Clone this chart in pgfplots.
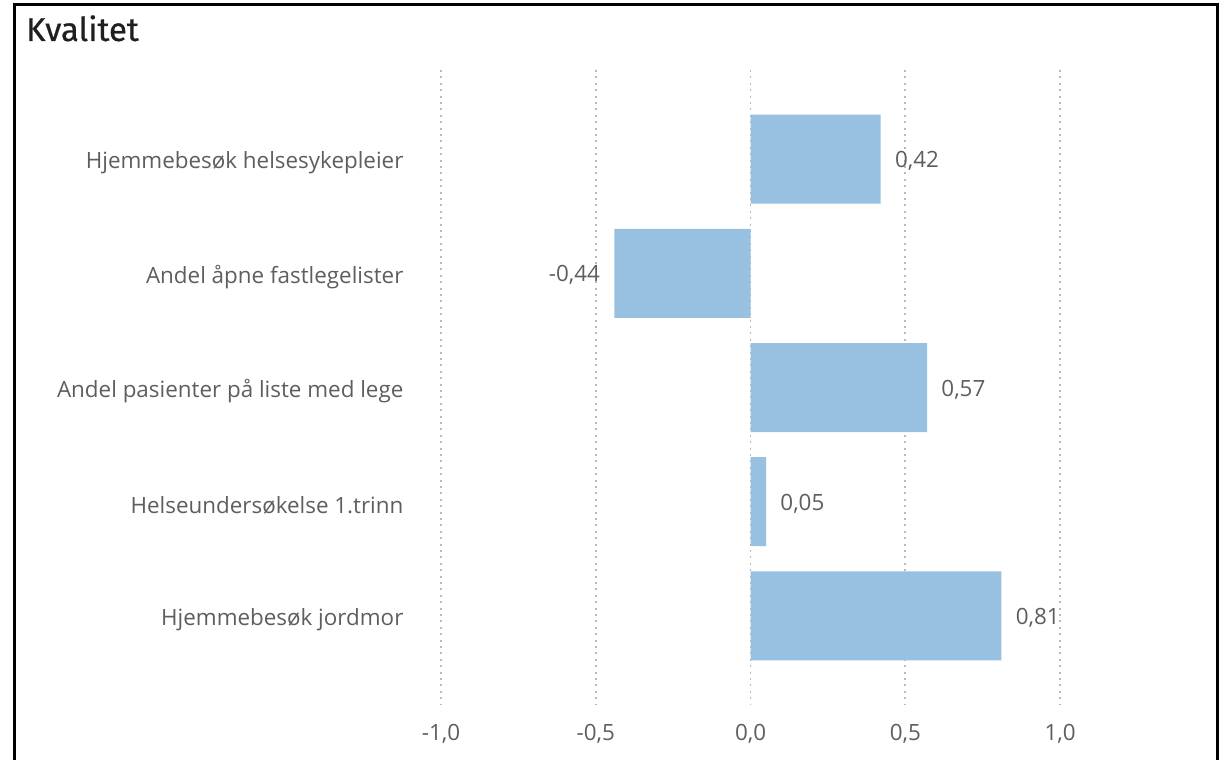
\documentclass[border=0pt]{standalone}
\usepackage{fontspec}
\setmainfont{Open Sans}
\newfontfamily\titlefont[FakeBold=0.6]{Fira Sans}
\usepackage{pgfplots}
\pgfplotsset{compat=1.18}
\definecolor{barc}{RGB}{151,192,225}
\definecolor{lbl}{RGB}{96,94,92}
\definecolor{gridc}{RGB}{185,185,185}

\begin{document}
\begin{tikzpicture}
\useasboundingbox (-205pt,-27.5pt) rectangle (408pt,352.5pt);
% frame
\draw[line width=1.5pt] (-197.5pt,-40pt) -- (-197.5pt,350pt) -- (403.5pt,350pt) -- (403.5pt,-40pt);
\node[anchor=base west, font=\titlefont\fontsize{16.5}{19}\selectfont, text=black!88] at (-195.5pt,332pt) {Kvalitet};
\begin{axis}[
	at={(0pt,0pt)}, anchor=south west,
	scale only axis,
	width=394.75pt, height=317.5pt,
	xmin=-1.1, xmax=1.45,
	ymin=-0.78, ymax=4.78,
	y dir=reverse,
	xbar, bar width=44.5pt,
	axis line style={draw=none},
	tick style={draw=none},
	xtick={-1,-0.5,0,0.5,1},
	ytick={0,1,2,3,4},
	yticklabels={Hjemmebesøk helsesykepleier, Andel åpne fastlegelister, Andel pasienter på liste med lege, Helseundersøkelse 1.trinn, Hjemmebesøk jordmor},
	xmajorgrids,
	grid style={gridc, line width=0.9pt, dash pattern=on 1pt off 2.2pt},
	font=\fontsize{11.2}{13}\selectfont,
	ticklabel style={text=lbl},
	/pgf/number format/assume math mode=true,
	xticklabel style={/pgf/number format/.cd, use comma, fixed, fixed zerofill, precision=1},
	xticklabel shift=6pt,
	yticklabel style={xshift=4.5pt, yshift=-2pt},
	nodes near coords,
	nodes near coords align={horizontal},
	every node near coord/.append style={text=lbl, inner sep=7pt, yshift=-1pt,
		/pgf/number format/.cd, use comma, fixed, fixed zerofill, precision=2},
]
\addplot[draw=none, fill=barc] coordinates {
	(0.42,0)
	(-0.44,1)
	(0.57,2)
	(0.05,3)
	(0.81,4)
};
\end{axis}
\end{tikzpicture}
\end{document}
